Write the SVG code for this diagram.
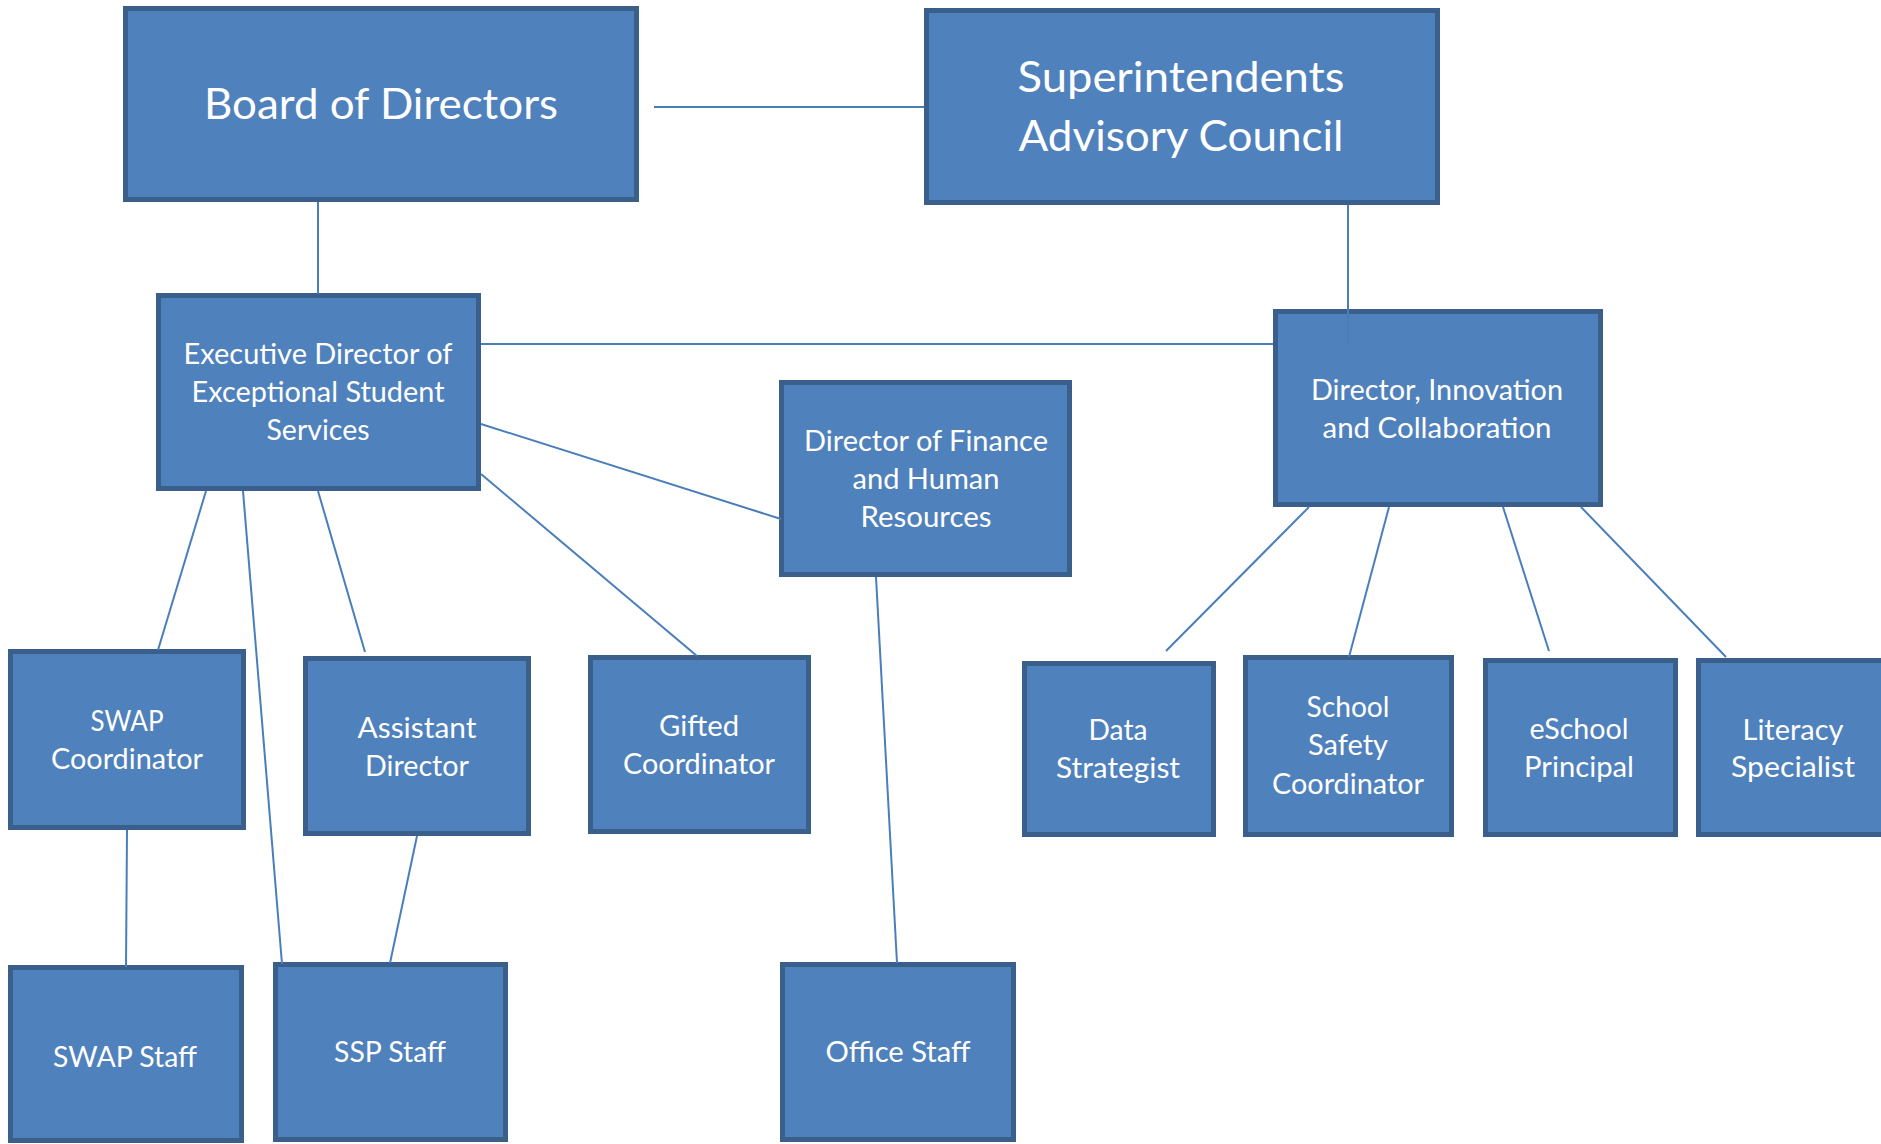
<svg xmlns="http://www.w3.org/2000/svg" width="1881" height="1144" viewBox="0 0 1881 1144">
  <style>
    .box { fill: #4F81BD; stroke: #3A5F8B; stroke-width: 5; }
    .lbl { fill: #FFFFFF; font-family: Lato, "Open Sans", "Liberation Sans", sans-serif; font-size: 28px; text-anchor: middle; }
    .big { font-size: 42px; }
    .conn line { stroke: #4A7EBB; stroke-width: 2; fill: none; }
  </style>
  <rect width="1881" height="1144" fill="#FFFFFF"/>

  <g id="board">
    <rect class="box" x="125.5" y="8.5" width="511" height="191"/>
    <text class="lbl big" x="381" y="119" textLength="354" lengthAdjust="spacingAndGlyphs">Board of Directors</text>
  </g>

  <g id="superintendents">
    <rect class="box" x="926.5" y="10.5" width="511" height="192"/>
    <text class="lbl big" x="1181" y="92" textLength="327" lengthAdjust="spacingAndGlyphs">Superintendents</text>
    <text class="lbl big" x="1181" y="151" textLength="325" lengthAdjust="spacingAndGlyphs">Advisory Council</text>
  </g>

  <g id="exec-director">
    <rect class="box" x="158.5" y="295.5" width="320" height="193"/>
    <text class="lbl" x="318" y="364" textLength="269" lengthAdjust="spacingAndGlyphs">Executive Director of</text>
    <text class="lbl" x="318" y="402" textLength="253" lengthAdjust="spacingAndGlyphs">Exceptional Student</text>
    <text class="lbl" x="318" y="440" textLength="103" lengthAdjust="spacingAndGlyphs">Services</text>
  </g>

  <g id="finance-director">
    <rect class="box" x="781.5" y="382.5" width="288" height="192"/>
    <text class="lbl" x="926" y="451" textLength="244" lengthAdjust="spacingAndGlyphs">Director of Finance</text>
    <text class="lbl" x="926" y="489" textLength="147" lengthAdjust="spacingAndGlyphs">and Human</text>
    <text class="lbl" x="926" y="527" textLength="131" lengthAdjust="spacingAndGlyphs">Resources</text>
  </g>

  <g id="innovation-director">
    <rect class="box" x="1275.5" y="311.5" width="325" height="193"/>
    <text class="lbl" x="1437" y="400" textLength="252" lengthAdjust="spacingAndGlyphs">Director, Innovation</text>
    <text class="lbl" x="1437" y="438" textLength="229" lengthAdjust="spacingAndGlyphs">and Collaboration</text>
  </g>

  <g id="swap-coordinator">
    <rect class="box" x="10.5" y="651.5" width="233" height="176"/>
    <text class="lbl" x="127" y="731" textLength="73" lengthAdjust="spacingAndGlyphs">SWAP</text>
    <text class="lbl" x="127" y="769" textLength="152" lengthAdjust="spacingAndGlyphs">Coordinator</text>
  </g>

  <g id="assistant-director">
    <rect class="box" x="305.5" y="658.5" width="223" height="175"/>
    <text class="lbl" x="417" y="738" textLength="119" lengthAdjust="spacingAndGlyphs">Assistant</text>
    <text class="lbl" x="417" y="776" textLength="104" lengthAdjust="spacingAndGlyphs">Director</text>
  </g>

  <g id="gifted-coordinator">
    <rect class="box" x="590.5" y="657.5" width="218" height="174"/>
    <text class="lbl" x="699" y="736" textLength="80" lengthAdjust="spacingAndGlyphs">Gifted</text>
    <text class="lbl" x="699" y="774" textLength="152" lengthAdjust="spacingAndGlyphs">Coordinator</text>
  </g>

  <g id="data-strategist">
    <rect class="box" x="1024.5" y="663.5" width="189" height="171"/>
    <text class="lbl" x="1118" y="740" textLength="59" lengthAdjust="spacingAndGlyphs">Data</text>
    <text class="lbl" x="1118" y="778" textLength="124" lengthAdjust="spacingAndGlyphs">Strategist</text>
  </g>

  <g id="school-safety">
    <rect class="box" x="1245.5" y="657.5" width="206" height="177"/>
    <text class="lbl" x="1348" y="717" textLength="83" lengthAdjust="spacingAndGlyphs">School</text>
    <text class="lbl" x="1348" y="755" textLength="80" lengthAdjust="spacingAndGlyphs">Safety</text>
    <text class="lbl" x="1348" y="794" textLength="152" lengthAdjust="spacingAndGlyphs">Coordinator</text>
  </g>

  <g id="eschool-principal">
    <rect class="box" x="1485.5" y="660.5" width="190" height="174"/>
    <text class="lbl" x="1579" y="739" textLength="99" lengthAdjust="spacingAndGlyphs">eSchool</text>
    <text class="lbl" x="1579" y="777" textLength="110" lengthAdjust="spacingAndGlyphs">Principal</text>
  </g>

  <g id="literacy-specialist">
    <rect class="box" x="1698.5" y="660.5" width="189" height="174"/>
    <text class="lbl" x="1793" y="740" textLength="101" lengthAdjust="spacingAndGlyphs">Literacy</text>
    <text class="lbl" x="1793" y="777" textLength="124" lengthAdjust="spacingAndGlyphs">Specialist</text>
  </g>

  <g id="swap-staff">
    <rect class="box" x="10.5" y="967.5" width="231" height="173"/>
    <text class="lbl" x="125" y="1067" textLength="144" lengthAdjust="spacingAndGlyphs">SWAP Staff</text>
  </g>

  <g id="ssp-staff">
    <rect class="box" x="275.5" y="964.5" width="230" height="175"/>
    <text class="lbl" x="390" y="1062" textLength="112" lengthAdjust="spacingAndGlyphs">SSP Staff</text>
  </g>

  <g id="office-staff">
    <rect class="box" x="782.5" y="964.5" width="231" height="175"/>
    <text class="lbl" x="898" y="1062" textLength="145" lengthAdjust="spacingAndGlyphs">Office Staff</text>
  </g>

  <!-- connectors, drawn over the boxes so the council line shows inside the director box -->
  <g id="connectors" class="conn">
    <line x1="654" y1="107" x2="924" y2="107"/>
    <line x1="318" y1="202" x2="318" y2="294"/>
    <line x1="1348" y1="205" x2="1348" y2="344"/>
    <line x1="481" y1="344" x2="1273" y2="344"/>
    <line x1="481" y1="424" x2="781" y2="519"/>
    <line x1="481" y1="474" x2="697" y2="656"/>
    <line x1="206" y1="491" x2="158" y2="650"/>
    <line x1="243" y1="491" x2="282" y2="964"/>
    <line x1="318" y1="491" x2="365" y2="652"/>
    <line x1="127" y1="830" x2="126" y2="967"/>
    <line x1="417" y1="836" x2="390" y2="963"/>
    <line x1="876" y1="577" x2="897" y2="963"/>
    <line x1="1309" y1="507" x2="1166" y2="651"/>
    <line x1="1389" y1="507" x2="1349" y2="657"/>
    <line x1="1503" y1="507" x2="1549" y2="651"/>
    <line x1="1581" y1="507" x2="1726" y2="657"/>
  </g>
</svg>
